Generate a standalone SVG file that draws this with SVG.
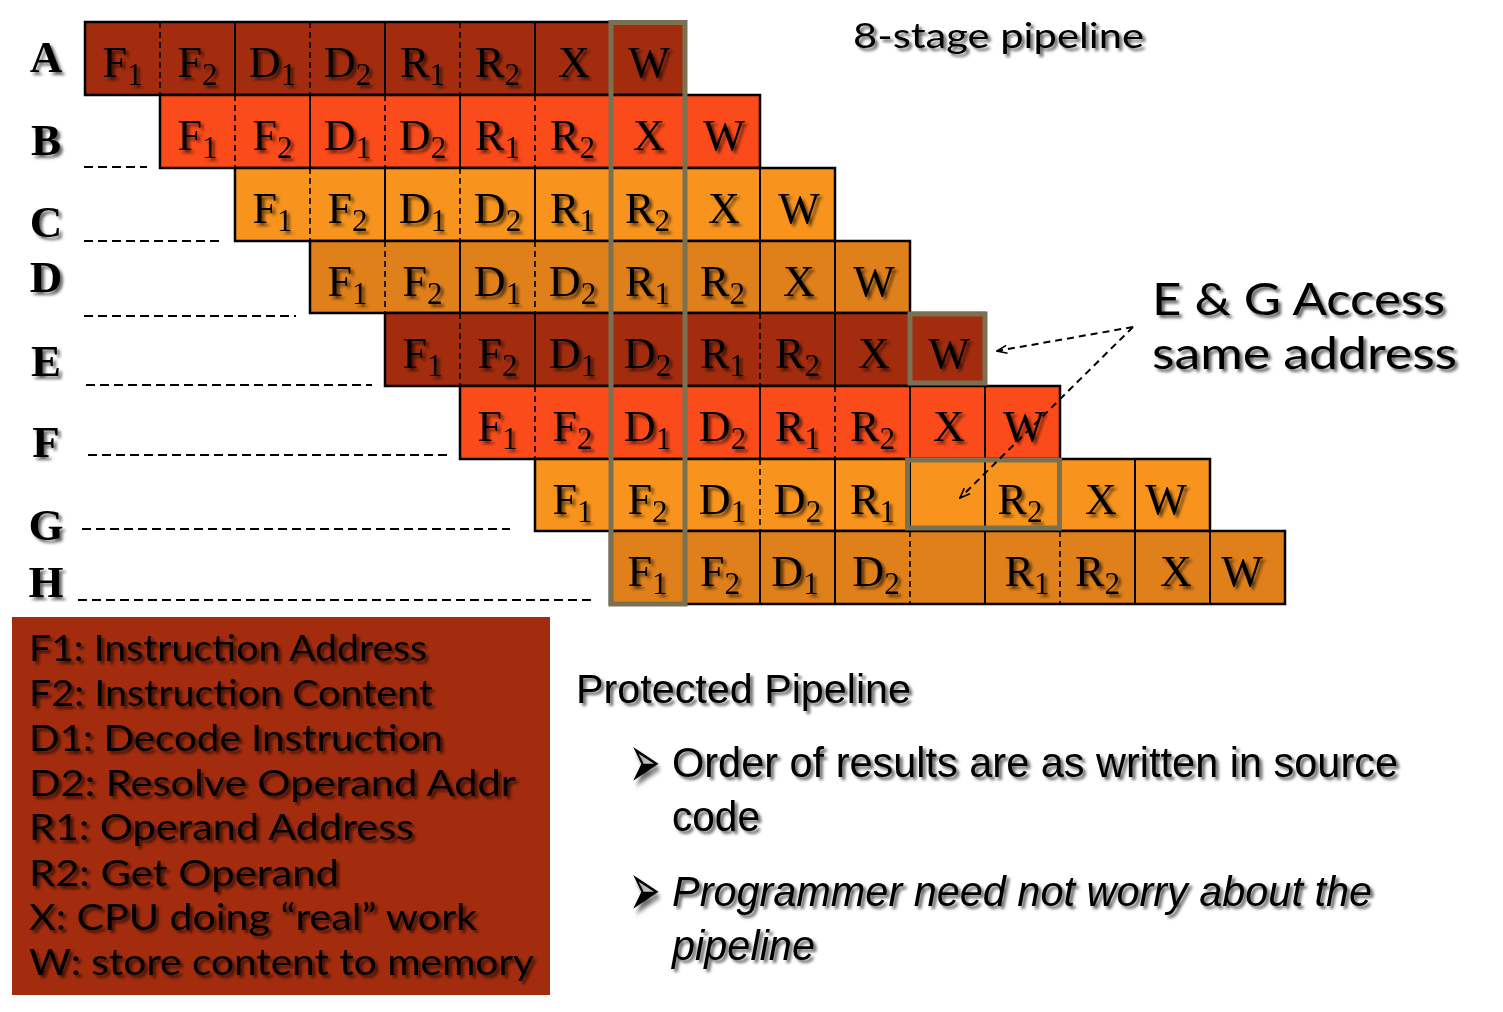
<svg xmlns="http://www.w3.org/2000/svg" width="1503" height="1012" viewBox="0 0 1503 1012">
<defs>
<filter id="sh" x="-10%" y="-20%" width="130%" height="150%">
<feDropShadow dx="3" dy="3" stdDeviation="1.6" flood-color="#000" flood-opacity="0.6"/>
</filter>
<marker id="ah" viewBox="0 0 12 10" refX="11" refY="5" markerWidth="12" markerHeight="10" markerUnits="userSpaceOnUse" orient="auto-start-reverse">
<path d="M1,1 L11,5 L1,9" fill="none" stroke="#000" stroke-width="1.6"/>
</marker>
</defs>
<style>
text{filter:url(#sh);}
.lab{font-family:"Liberation Serif",serif;font-weight:bold;font-size:45px;text-anchor:middle;fill:#000;}
.c{font-family:"Liberation Serif",serif;font-size:44px;text-anchor:middle;fill:#000;}
.s{font-size:31px;}
.row{stroke:#000;stroke-width:2.5;}
.d{stroke:#000;stroke-width:1.6;stroke-dasharray:6 4;}
.l{stroke:#000;stroke-width:2;}
.ra{fill:#A32C0E;}
.rb{fill:#FC4B1A;}
.rc{fill:#F8941D;}
.rd{fill:#DF801B;}
.grey{fill:none;stroke:#7A7052;stroke-width:5;}
.ld{stroke:#000;stroke-width:2;stroke-dasharray:9 5;}
.g{font-family:"Lato","DejaVu Sans",sans-serif;fill:#000;}
.a{font-family:"Liberation Sans",Arial,sans-serif;fill:#000;}
.bul{font-family:"DejaVu Sans",sans-serif;font-size:44px;fill:#000;}
.conn{stroke:#000;stroke-width:2;stroke-dasharray:7 5;fill:none;}
</style>

<g id="row-labels">
<text class="lab" x="46" y="72">A</text>
<text class="lab" x="46" y="155">B</text>
<text class="lab" x="46" y="237">C</text>
<text class="lab" x="46" y="292">D</text>
<text class="lab" x="46" y="376">E</text>
<text class="lab" x="46" y="457">F</text>
<text class="lab" x="46" y="540">G</text>
<text class="lab" x="46" y="597">H</text>
<line class="ld" x1="84" y1="167" x2="147" y2="167"/>
<line class="ld" x1="84" y1="241" x2="222" y2="241"/>
<line class="ld" x1="84" y1="316" x2="296" y2="316"/>
<line class="ld" x1="86" y1="385" x2="372" y2="385"/>
<line class="ld" x1="88" y1="455" x2="447" y2="455"/>
<line class="ld" x1="82" y1="529" x2="510" y2="529"/>
<line class="ld" x1="78" y1="600" x2="596" y2="600"/>
</g>

<g id="row-A">
<rect class="row ra" x="85" y="22" width="600" height="73"/>
<line class="d" x1="160" y1="22" x2="160" y2="95"/>
<line class="l" x1="235" y1="22" x2="235" y2="95"/>
<line class="d" x1="310" y1="22" x2="310" y2="95"/>
<line class="l" x1="385" y1="22" x2="385" y2="95"/>
<line class="d" x1="460" y1="22" x2="460" y2="95"/>
<line class="l" x1="535" y1="22" x2="535" y2="95"/>
<line class="l" x1="610" y1="22" x2="610" y2="95"/>
<text class="c" x="122.5" y="77">F<tspan class="s" dy="8">1</tspan></text>
<text class="c" x="197.5" y="77">F<tspan class="s" dy="8">2</tspan></text>
<text class="c" x="272.5" y="77">D<tspan class="s" dy="8">1</tspan></text>
<text class="c" x="347.5" y="77">D<tspan class="s" dy="8">2</tspan></text>
<text class="c" x="422.5" y="77">R<tspan class="s" dy="8">1</tspan></text>
<text class="c" x="497.5" y="77">R<tspan class="s" dy="8">2</tspan></text>
<text class="c" x="574" y="77">X</text>
<text class="c" x="649" y="77">W</text>
</g>

<g id="row-B">
<rect class="row rb" x="160" y="95" width="600" height="73"/>
<line class="d" x1="235" y1="95" x2="235" y2="168"/>
<line class="l" x1="310" y1="95" x2="310" y2="168"/>
<line class="d" x1="385" y1="95" x2="385" y2="168"/>
<line class="l" x1="460" y1="95" x2="460" y2="168"/>
<line class="d" x1="535" y1="95" x2="535" y2="168"/>
<line class="l" x1="610" y1="95" x2="610" y2="168"/>
<line class="l" x1="685" y1="95" x2="685" y2="168"/>
<text class="c" x="197.5" y="150">F<tspan class="s" dy="8">1</tspan></text>
<text class="c" x="272.5" y="150">F<tspan class="s" dy="8">2</tspan></text>
<text class="c" x="347.5" y="150">D<tspan class="s" dy="8">1</tspan></text>
<text class="c" x="422.5" y="150">D<tspan class="s" dy="8">2</tspan></text>
<text class="c" x="497.5" y="150">R<tspan class="s" dy="8">1</tspan></text>
<text class="c" x="572.5" y="150">R<tspan class="s" dy="8">2</tspan></text>
<text class="c" x="649" y="150">X</text>
<text class="c" x="724" y="150">W</text>
</g>

<g id="row-C">
<rect class="row rc" x="235" y="168" width="600" height="73"/>
<line class="d" x1="310" y1="168" x2="310" y2="241"/>
<line class="l" x1="385" y1="168" x2="385" y2="241"/>
<line class="d" x1="460" y1="168" x2="460" y2="241"/>
<line class="l" x1="535" y1="168" x2="535" y2="241"/>
<line class="d" x1="610" y1="168" x2="610" y2="241"/>
<line class="l" x1="685" y1="168" x2="685" y2="241"/>
<line class="l" x1="760" y1="168" x2="760" y2="241"/>
<text class="c" x="272.5" y="223">F<tspan class="s" dy="8">1</tspan></text>
<text class="c" x="347.5" y="223">F<tspan class="s" dy="8">2</tspan></text>
<text class="c" x="422.5" y="223">D<tspan class="s" dy="8">1</tspan></text>
<text class="c" x="497.5" y="223">D<tspan class="s" dy="8">2</tspan></text>
<text class="c" x="572.5" y="223">R<tspan class="s" dy="8">1</tspan></text>
<text class="c" x="647.5" y="223">R<tspan class="s" dy="8">2</tspan></text>
<text class="c" x="724" y="223">X</text>
<text class="c" x="799" y="223">W</text>
</g>

<g id="row-D">
<rect class="row rd" x="310" y="241" width="600" height="72"/>
<line class="d" x1="385" y1="241" x2="385" y2="313"/>
<line class="l" x1="460" y1="241" x2="460" y2="313"/>
<line class="d" x1="535" y1="241" x2="535" y2="313"/>
<line class="l" x1="610" y1="241" x2="610" y2="313"/>
<line class="d" x1="685" y1="241" x2="685" y2="313"/>
<line class="l" x1="760" y1="241" x2="760" y2="313"/>
<line class="l" x1="835" y1="241" x2="835" y2="313"/>
<text class="c" x="347.5" y="296">F<tspan class="s" dy="8">1</tspan></text>
<text class="c" x="422.5" y="296">F<tspan class="s" dy="8">2</tspan></text>
<text class="c" x="497.5" y="296">D<tspan class="s" dy="8">1</tspan></text>
<text class="c" x="572.5" y="296">D<tspan class="s" dy="8">2</tspan></text>
<text class="c" x="647.5" y="296">R<tspan class="s" dy="8">1</tspan></text>
<text class="c" x="722.5" y="296">R<tspan class="s" dy="8">2</tspan></text>
<text class="c" x="799" y="296">X</text>
<text class="c" x="874" y="296">W</text>
</g>

<g id="row-E">
<rect class="row ra" x="385" y="313" width="600" height="73"/>
<line class="d" x1="460" y1="313" x2="460" y2="386"/>
<line class="l" x1="535" y1="313" x2="535" y2="386"/>
<line class="d" x1="610" y1="313" x2="610" y2="386"/>
<line class="l" x1="685" y1="313" x2="685" y2="386"/>
<line class="d" x1="760" y1="313" x2="760" y2="386"/>
<line class="l" x1="835" y1="313" x2="835" y2="386"/>
<line class="l" x1="910" y1="313" x2="910" y2="386"/>
<text class="c" x="422.5" y="368">F<tspan class="s" dy="8">1</tspan></text>
<text class="c" x="497.5" y="368">F<tspan class="s" dy="8">2</tspan></text>
<text class="c" x="572.5" y="368">D<tspan class="s" dy="8">1</tspan></text>
<text class="c" x="647.5" y="368">D<tspan class="s" dy="8">2</tspan></text>
<text class="c" x="722.5" y="368">R<tspan class="s" dy="8">1</tspan></text>
<text class="c" x="797.5" y="368">R<tspan class="s" dy="8">2</tspan></text>
<text class="c" x="874" y="368">X</text>
<text class="c" x="949" y="368">W</text>
</g>

<g id="row-F">
<rect class="row rb" x="460" y="386" width="600" height="73"/>
<line class="d" x1="535" y1="386" x2="535" y2="459"/>
<line class="l" x1="610" y1="386" x2="610" y2="459"/>
<line class="d" x1="685" y1="386" x2="685" y2="459"/>
<line class="l" x1="760" y1="386" x2="760" y2="459"/>
<line class="d" x1="835" y1="386" x2="835" y2="459"/>
<line class="l" x1="910" y1="386" x2="910" y2="459"/>
<line class="l" x1="985" y1="386" x2="985" y2="459"/>
<text class="c" x="497.5" y="441">F<tspan class="s" dy="8">1</tspan></text>
<text class="c" x="572.5" y="441">F<tspan class="s" dy="8">2</tspan></text>
<text class="c" x="647.5" y="441">D<tspan class="s" dy="8">1</tspan></text>
<text class="c" x="722.5" y="441">D<tspan class="s" dy="8">2</tspan></text>
<text class="c" x="797.5" y="441">R<tspan class="s" dy="8">1</tspan></text>
<text class="c" x="872.5" y="441">R<tspan class="s" dy="8">2</tspan></text>
<text class="c" x="949" y="441">X</text>
<text class="c" x="1024" y="441">W</text>
</g>

<g id="row-G">
<rect class="row rc" x="535" y="459" width="675" height="72"/>
<line class="d" x1="610" y1="459" x2="610" y2="531"/>
<line class="l" x1="685" y1="459" x2="685" y2="531"/>
<line class="d" x1="760" y1="459" x2="760" y2="531"/>
<line class="l" x1="835" y1="459" x2="835" y2="531"/>
<line class="l" x1="910" y1="459" x2="910" y2="531"/>
<line class="l" x1="985" y1="459" x2="985" y2="531"/>
<line class="l" x1="1060" y1="459" x2="1060" y2="531"/>
<line class="l" x1="1135" y1="459" x2="1135" y2="531"/>
<text class="c" x="572.5" y="514">F<tspan class="s" dy="8">1</tspan></text>
<text class="c" x="647.5" y="514">F<tspan class="s" dy="8">2</tspan></text>
<text class="c" x="722.5" y="514">D<tspan class="s" dy="8">1</tspan></text>
<text class="c" x="797.5" y="514">D<tspan class="s" dy="8">2</tspan></text>
<text class="c" x="872.5" y="514">R<tspan class="s" dy="8">1</tspan></text>
<text class="c" x="1020" y="514">R<tspan class="s" dy="8">2</tspan></text>
<text class="c" x="1101" y="514">X</text>
<text class="c" x="1166" y="514">W</text>
</g>

<g id="row-H">
<rect class="row rd" x="610" y="531" width="675" height="73"/>
<line class="d" x1="685" y1="531" x2="685" y2="604"/>
<line class="l" x1="760" y1="531" x2="760" y2="604"/>
<line class="l" x1="835" y1="531" x2="835" y2="604"/>
<line class="d" x1="910" y1="531" x2="910" y2="604"/>
<line class="l" x1="985" y1="531" x2="985" y2="604"/>
<line class="d" x1="1060" y1="531" x2="1060" y2="604"/>
<line class="l" x1="1135" y1="531" x2="1135" y2="604"/>
<line class="l" x1="1210" y1="531" x2="1210" y2="604"/>
<text class="c" x="647.5" y="586">F<tspan class="s" dy="8">1</tspan></text>
<text class="c" x="720" y="586">F<tspan class="s" dy="8">2</tspan></text>
<text class="c" x="795" y="586">D<tspan class="s" dy="8">1</tspan></text>
<text class="c" x="876" y="586">D<tspan class="s" dy="8">2</tspan></text>
<text class="c" x="1027" y="586">R<tspan class="s" dy="8">1</tspan></text>
<text class="c" x="1097.5" y="586">R<tspan class="s" dy="8">2</tspan></text>
<text class="c" x="1176" y="586">X</text>
<text class="c" x="1242" y="586">W</text>
</g>

<g id="highlights">
<rect class="grey" x="611" y="22.5" width="74" height="581.5"/>
<rect class="grey" x="910" y="314" width="75" height="69"/>
<rect class="grey" x="907.5" y="460" width="152" height="68"/>
</g>

<g id="connectors">
<line class="conn" x1="1133" y1="327" x2="997" y2="351" marker-end="url(#ah)"/>
<line class="conn" x1="1133" y1="327" x2="960" y2="498" marker-end="url(#ah)"/>
</g>

<g id="titles">
<text class="g" x="853" y="48" font-size="34" textLength="291" lengthAdjust="spacingAndGlyphs">8-stage pipeline</text>
<text class="g" x="1152" y="315" font-size="44" textLength="293" lengthAdjust="spacingAndGlyphs">E &amp; G Access</text>
<text class="g" x="1152" y="369" font-size="44" textLength="305" lengthAdjust="spacingAndGlyphs">same address</text>
</g>

<g id="legend">
<rect x="12" y="617" width="538" height="378" fill="#A32C0E"/>
<text class="g" x="29" y="661" font-size="36" textLength="398" lengthAdjust="spacingAndGlyphs">F1: Instruction Address</text>
<text class="g" x="29" y="706" font-size="36" textLength="404" lengthAdjust="spacingAndGlyphs">F2: Instruction Content</text>
<text class="g" x="29" y="751" font-size="36" textLength="414" lengthAdjust="spacingAndGlyphs">D1: Decode Instruction</text>
<text class="g" x="29" y="796" font-size="36" textLength="487" lengthAdjust="spacingAndGlyphs">D2: Resolve Operand Addr</text>
<text class="g" x="29" y="840" font-size="36" textLength="385" lengthAdjust="spacingAndGlyphs">R1: Operand Address</text>
<text class="g" x="29" y="886" font-size="36" textLength="310" lengthAdjust="spacingAndGlyphs">R2: Get Operand</text>
<text class="g" x="29" y="930" font-size="36" textLength="448" lengthAdjust="spacingAndGlyphs">X: CPU doing “real” work</text>
<text class="g" x="29" y="975" font-size="36" textLength="505" lengthAdjust="spacingAndGlyphs">W: store content to memory</text>
</g>

<g id="notes">
<text class="a" x="576" y="703" font-size="41" textLength="335" lengthAdjust="spacingAndGlyphs">Protected Pipeline</text>
<text class="bul" transform="translate(629,788) scale(0.85,1.75)" x="0" y="0">➢</text>
<text class="a" x="672" y="777" font-size="42" textLength="726" lengthAdjust="spacingAndGlyphs">Order of results are as written in source</text>
<text class="a" x="672" y="831" font-size="42" textLength="88" lengthAdjust="spacingAndGlyphs">code</text>
<text class="bul" transform="translate(629,916) scale(0.85,1.75)" x="0" y="0">➢</text>
<text class="a" x="672" y="906" font-size="42" font-style="italic" textLength="700" lengthAdjust="spacingAndGlyphs">Programmer need not worry about the</text>
<text class="a" x="672" y="960" font-size="42" font-style="italic" textLength="143" lengthAdjust="spacingAndGlyphs">pipeline</text>
</g>
</svg>
